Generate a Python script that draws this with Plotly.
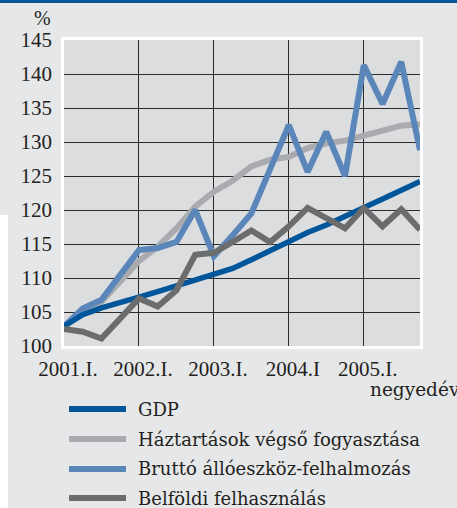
import plotly.graph_objects as go

# ---- data (quarters 2001.I .. 2005.IV) ----
quarters = [f"{y}.{q}" for y in range(2001, 2006) for q in ["I", "II", "III", "IV"]]
gdp = [102.9, 104.6, 105.6, 106.3, 107.2, 108.0, 108.8, 109.7, 110.4, 111.4,
       112.7, 114.1, 115.4, 116.7, 117.8, 119.0, 120.3, 121.6, 122.9, 124.2]
haztartas = [102.9, 104.8, 106.5, 109.5, 112.5, 114.6, 117.3, 120.5, 122.7, 124.3,
             126.4, 127.4, 127.8, 129.1, 129.8, 130.2, 130.9, 131.8, 132.4, 132.6]
brutto = [102.9, 105.5, 106.8, 110.4, 114.1, 114.4, 115.3, 120.0, 113.2, 116.3,
          119.5, 126.0, 132.5, 125.6, 131.5, 125.0, 141.3, 135.6, 141.8, 128.8]
belfoldi = [102.5, 102.1, 101.1, 104.1, 107.0, 105.8, 108.2, 113.4, 113.7, 115.3,
            117.0, 115.3, 117.6, 120.3, 118.9, 117.3, 120.3, 117.6, 120.1, 117.1]

series_names = ["GDP", "Háztartások végső fogyasztása",
                "Bruttó állóeszköz-felhalmozás", "Belföldi felhasználás"]
series_values = [gdp, haztartas, brutto, belfoldi]
series_colors = ["#00569b", "#a9abae", "#5b86ba", "#6b6c6e"]
draw_order = [1, 2, 0, 3]

xtick_labels = ["2001.I.", "2002.I.", "2003.I.", "2004.I", "2005.I."]
xtick_pos = [0, 4, 8, 12, 16]
ytick_vals = [100, 105, 110, 115, 120, 125, 130, 135, 140, 145]

# ---- layout geometry (pixels) ----
W, H = 457, 508
L, R, T, B = 64, 420, 40, 346

def px2x(px):
    return (px - L) / (R - L)

def py2y(py):
    return (B - py) / (B - T)

FONT = "'Liberation Serif', 'Times New Roman', serif"
FONT2 = "'DejaVu Serif', serif"
TXT = "#231f20"

fig = go.Figure()
xs = list(range(len(quarters)))
for i in draw_order:
    fig.add_trace(go.Scatter(
        x=xs, y=series_values[i], mode="lines", name=series_names[i],
        line=dict(color=series_colors[i], width=6 if i != 0 else 5.5),
        showlegend=False, hoverinfo="skip"))

shapes = [
    dict(type="rect", xref="paper", yref="paper", x0=px2x(0), x1=px2x(W),
         y0=py2y(3), y1=py2y(0), fillcolor="#00569b", line=dict(width=0), layer="below"),
    dict(type="rect", xref="paper", yref="paper", x0=px2x(0), x1=px2x(8),
         y0=py2y(H), y1=py2y(215), fillcolor="#ffffff", line=dict(width=0), layer="below"),
    dict(type="rect", xref="paper", yref="paper", x0=px2x(L - 1.5), x1=px2x(R + 1.5),
         y0=py2y(B + 1.5), y1=py2y(T - 1.5), fillcolor="rgba(0,0,0,0)",
         line=dict(color="#ffffff", width=3), layer="above"),
]

annotations = [
    dict(text="%", xref="paper", yref="paper", x=px2x(42), y=py2y(18),
         xanchor="center", yanchor="middle", showarrow=False,
         font=dict(family=FONT, size=20, color=TXT)),
    dict(text="negyedév", xref="paper", yref="paper", x=px2x(368), y=py2y(389),
         xanchor="left", yanchor="middle", showarrow=False,
         font=dict(family=FONT2, size=18.5, color=TXT)),
]

leg_y = [409, 439, 469, 498]
for name, col, ly in zip(series_names, series_colors, leg_y):
    shapes.append(dict(type="line", xref="paper", yref="paper",
                       x0=px2x(69), x1=px2x(126), y0=py2y(ly), y1=py2y(ly),
                       line=dict(color=col, width=6)))
    annotations.append(dict(text=name, xref="paper", yref="paper",
                            x=px2x(136), y=py2y(ly), xanchor="left", yanchor="middle",
                            showarrow=False, font=dict(family=FONT2, size=18, color=TXT)))

fig.update_layout(
    width=W, height=H,
    margin=dict(l=L, r=W - R, t=T, b=H - B, pad=0),
    paper_bgcolor="#e6e7e9",
    plot_bgcolor="#dcdddf",
    shapes=shapes,
    annotations=annotations,
    showlegend=False,
    font=dict(family=FONT, color=TXT),
    xaxis=dict(range=[0, 19], tickvals=xtick_pos, ticktext=xtick_labels,
               showgrid=True, gridcolor="#2b2b2b", gridwidth=1.2,
               zeroline=False, showline=False, ticks="",
               ticklabelstandoff=8, ticklabelshift=4,
               tickfont=dict(family=FONT, size=21, color=TXT)),
    yaxis=dict(range=[100, 145], tickvals=ytick_vals,
               showgrid=True, gridcolor="#2b2b2b", gridwidth=1.2,
               zeroline=False, showline=False, ticks="",
               ticklabelstandoff=11,
               tickfont=dict(family=FONT, size=21, color=TXT)),
)

fig.write_html("out.html", config={"displayModeBar": False},
               post_script="document.body.style.margin='0';document.body.style.padding='0';")
